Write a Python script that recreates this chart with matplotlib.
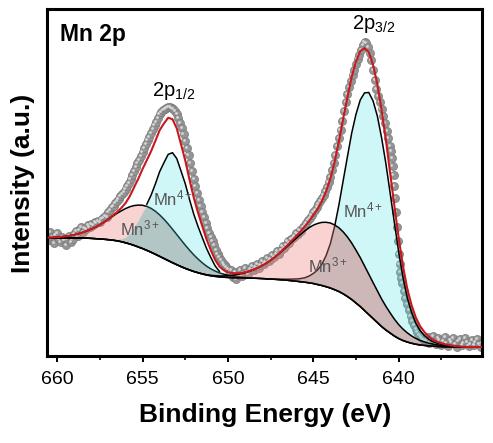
import numpy as np
import matplotlib.pyplot as plt
from matplotlib.transforms import ScaledTranslation

plt.rcParams['font.family'] = 'Liberation Sans'
plt.rcParams['mathtext.fontset'] = 'custom'
plt.rcParams['mathtext.rm'] = 'Liberation Sans'
plt.rcParams['mathtext.it'] = 'Liberation Sans:italic'
plt.rcParams['mathtext.bf'] = 'Liberation Sans:bold'

# fit grid (binding energy, eV) and fitted curves
be_fit = np.arange(660.5, 634.9, -0.25)

background = [120, 120, 120, 120, 120, 120, 120, 120, 120, 119.8,
              119.6, 119.3, 119, 118.7, 118.3, 117.8, 117.2, 116.3, 115.2, 114,
              112.6, 111, 109.4, 107.6, 105.7, 103.7, 101.6, 99.5, 97.4, 95.3,
              93.3, 91.4, 89.6, 88, 86.5, 85.2, 84, 83, 82.2, 81.6,
              81.1, 80.8, 80.5, 80.3, 80.2, 80.1, 80, 79.9, 79.8, 79.6,
              79.4, 79.2, 79, 78.7, 78.4, 78.1, 77.7, 77.3, 76.8, 76.3,
              75.8, 75.2, 74.5, 73.5, 72.5, 71.3, 70, 68.3, 66.5, 64.2,
              61.5, 58.5, 55, 51.5, 47.5, 43.5, 39.5, 35.5, 31.5, 28,
              25, 22, 19.5, 17.5, 16, 14.8, 13.8, 13.1, 12.6, 12.2,
              11.9, 11.6, 11.4, 11.2, 11.1, 11, 11, 11, 11, 11,
              11, 11, 11]

# component heights above the background
mn3_2p12 = [0.4, 0.6, 0.8, 1.2, 1.7, 2.3, 3.2, 4.3, 5.6, 7.3,
            9.3, 11.6, 14.2, 17.2, 20.4, 23.8, 27.4, 30.8, 34.2, 37.2,
            39.8, 41.9, 43.3, 44.0, 43.9, 43.0, 41.5, 39.3, 36.6, 33.5,
            30.2, 26.7, 23.2, 19.8, 16.6, 13.7, 11.1, 8.8, 6.9, 5.3,
            4.0, 3.0, 2.2, 1.6, 1.1, 0.8, 0.5, 0.35, 0.2, 0.15,
            0.1] + [0] * 52

mn4_2p12 = [0] * 14 + [0.3, 0.7, 1.3, 2.8, 5.5, 10.5,
                       18.2, 26.4, 36.3, 46.2, 57.2, 70.4, 84.7, 95.7, 106.2, 110,
                       106.2, 95.7, 84.7, 70.4, 57.2, 46.2, 36.3, 26.4, 18.2, 10.5,
                       5.5, 2.8, 1.3, 0.7, 0.3] + [0] * 58

mn3_2p32 = [0] * 35 + [0.1, 0.2, 0.3, 0.5, 0.7,
                       0.9, 1.3, 1.7, 2.3, 3.1, 4.1, 5.2, 6.7, 8.4, 10.5,
                       12.9, 15.6, 18.7, 22.2, 25.9, 30.0, 34.2, 38.6, 42.9, 47.2,
                       51.3, 55.0, 58.3, 61.0, 63.1, 64.4, 65.0, 64.7, 63.7, 61.9,
                       59.5, 56.4, 52.8, 48.9, 44.6, 40.3, 35.9, 31.7, 27.5, 23.7,
                       20.1, 16.8, 13.9, 11.4, 9.2, 7.3, 5.8, 4.5, 3.5, 2.6,
                       2.0, 1.5, 1.1, 0.8, 0.6, 0.4, 0.3, 0.2, 0.1] + [0] * 4

mn4_2p32 = [0] * 54 + [0.4, 0.7, 1.1, 1.6, 2.2, 3.1,
                       4.4, 6.7, 10.0, 14.4, 21.1, 31.1, 44.4, 63.3, 86.6, 113.2,
                       139.9, 166.5, 188.7, 206.5, 217.6, 222, 217.6, 206.5, 188.7, 166.5,
                       139.9, 113.2, 86.6, 63.3, 44.4, 31.1, 21.1, 14.4, 10.0, 6.7,
                       4.4, 3.1, 2.2, 1.6, 1.1, 0.7, 0.4] + [0] * 6

# measured spectrum
data_be = np.concatenate([np.arange(6606, 6404, -1) / 10,
                          np.arange(64045, 63975, -5) / 100,
                          np.arange(6397, 6349, -1) / 10])
data_cps = [124, 118, 126, 121, 115, 123, 125, 119, 116, 121,
            118, 113, 119, 122, 116, 119, 124, 127, 122, 128,
            131, 126, 130, 129, 133, 131, 134, 133, 136, 135,
            137, 136, 139, 140, 142, 141, 146, 148, 151, 152,
            155, 157, 159, 162, 164, 166, 169, 172, 175, 179,
            183, 187, 191, 195, 198, 202, 206, 210, 214, 218,
            221, 225, 229, 233, 236, 240, 244, 246, 248, 249,
            250, 251, 251, 250, 249, 247, 244, 240, 235, 230,
            224, 217, 210, 203, 195, 187, 179, 172, 165, 158,
            152, 146, 141, 135, 130, 125, 121, 117, 113, 108,
            104, 101, 98, 95, 93, 91, 89, 85, 88, 81,
            86, 79, 83, 88, 82, 85, 90, 86, 84, 89,
            92, 88, 91, 94, 90, 93, 97, 94, 96, 100,
            97, 99, 103, 101, 104, 107, 104, 108, 112, 110,
            113, 117, 115, 119, 120, 122, 125, 124, 128, 127,
            131, 133, 135, 138, 140, 143, 146, 148, 151, 154,
            157, 160, 163, 167, 171, 176, 181, 188, 195, 203,
            212, 220, 228, 237, 247, 256, 264, 271, 277, 283,
            288, 294, 299, 303, 308, 313, 316, 315, 311, 305,
            298, 288, 278, 269, 262, 256, 249, 242, 235, 227,
            220, 212,
            207, 200, 192, 183, 172, 160, 146, 131, 117, 104,
            94, 86, 80, 75,
            67, 60, 54, 48, 42, 37, 33, 29, 26, 23,
            21, 19, 18, 17, 21, 15, 19, 22, 16, 14,
            20, 18, 13, 17, 21, 15, 12, 18, 16, 20,
            14, 11, 17, 19, 13, 15, 20, 16, 12, 14,
            18, 13, 16, 19, 14, 11, 15, 17]

bg = np.array(background)
c3a = bg + np.array(mn3_2p12)
c4a = bg + np.array(mn4_2p12)
c3b = bg + np.array(mn3_2p32)
c4b = bg + np.array(mn4_2p32)
envelope = bg + (c3a - bg) + (c4a - bg) + (c3b - bg) + (c4b - bg)

pink = '#f08080'
cyan = '#40e0e0'
lw = 1.1

fig = plt.figure(figsize=(4.93, 4.43), dpi=100)
ax = fig.add_axes([0.0963, 0.1953, 0.8824, 0.7833])

# data points with a small highlight for the shaded-sphere look
ax.plot(data_be, data_cps, 'o', ms=5.8, mfc='#959595', mec='#7a7a7a', mew=0.5, zorder=1)
shift = ScaledTranslation(-0.012, 0.012, fig.dpi_scale_trans)
ax.plot(data_be, data_cps, 'o', ms=2.0, mfc='#d6d6d6', mec='none', zorder=1.1,
        transform=ax.transData + shift)

# 2p1/2 components
ax.fill_between(be_fit, bg, c3a, color=pink, alpha=0.35, lw=0, zorder=2)
ax.plot(be_fit, c3a, color='k', lw=lw, zorder=2.1)
ax.fill_between(be_fit, bg, c4a, color=cyan, alpha=0.25, lw=0, zorder=2.2)
ax.fill_between(be_fit, bg, np.minimum(c3a, c4a), color='#2a7a70', alpha=0.15, lw=0, zorder=2.3)
ax.plot(be_fit, np.where(c4a >= c3a, c4a, np.nan), color='k', lw=lw, zorder=2.4)

# 2p3/2 components
ax.fill_between(be_fit, bg, c4b, color=cyan, alpha=0.25, lw=0, zorder=3)
ax.plot(be_fit, c4b, color='k', lw=lw, zorder=3.1)
ax.fill_between(be_fit, bg, c3b, color=pink, alpha=0.35, lw=0, zorder=3.2)
ax.fill_between(be_fit, bg, np.minimum(c3b, c4b), color='#8b3a3a', alpha=0.15, lw=0, zorder=3.3)
ax.plot(be_fit, c3b, color='k', lw=lw, zorder=3.4)

ax.plot(be_fit, bg, color='k', lw=lw, zorder=3.5)
ax.plot(be_fit, envelope, color='#c8191e', lw=1.5, zorder=4)

# labels
lab = dict(fontsize=12, color='#555555', zorder=5)
ax.text(654.38, 153, 'Mn$^{4+}$', **lab)
ax.text(656.32, 123, 'Mn$^{3+}$', **lab)
ax.text(643.25, 141, 'Mn$^{4+}$', **lab)
ax.text(645.3, 86, 'Mn$^{3+}$', **lab)
ax.text(653.19, 262, '2p$_{1/2}$', fontsize=14.5, ha='center', va='baseline')
ax.text(641.48, 329, '2p$_{3/2}$', fontsize=14.5, ha='center', va='baseline')
ax.text(0.029, 0.962, 'Mn 2p', transform=ax.transAxes, fontsize=16.5,
        fontweight='bold', va='top')

ax.set_xlim(660.57, 635.09)
ax.set_ylim(1.5, 348.5)
ax.set_xticks([660, 655, 650, 645, 640])
ax.set_xticks([657.5, 652.5, 647.5, 642.5, 637.5], minor=True)
ax.set_yticks([])
ax.tick_params(axis='x', which='major', direction='out', length=4.5, width=1.4,
               labelsize=14, pad=6)
ax.tick_params(axis='x', which='minor', direction='out', length=3, width=1.2)
for s in ax.spines.values():
    s.set_linewidth(2.2)

ax.set_xlabel('Binding Energy (eV)', fontsize=19, fontweight='bold', labelpad=11)
ax.set_ylabel('Intensity (a.u.)', fontsize=19, fontweight='bold', labelpad=9)

fig.savefig('out.png', dpi=100)
